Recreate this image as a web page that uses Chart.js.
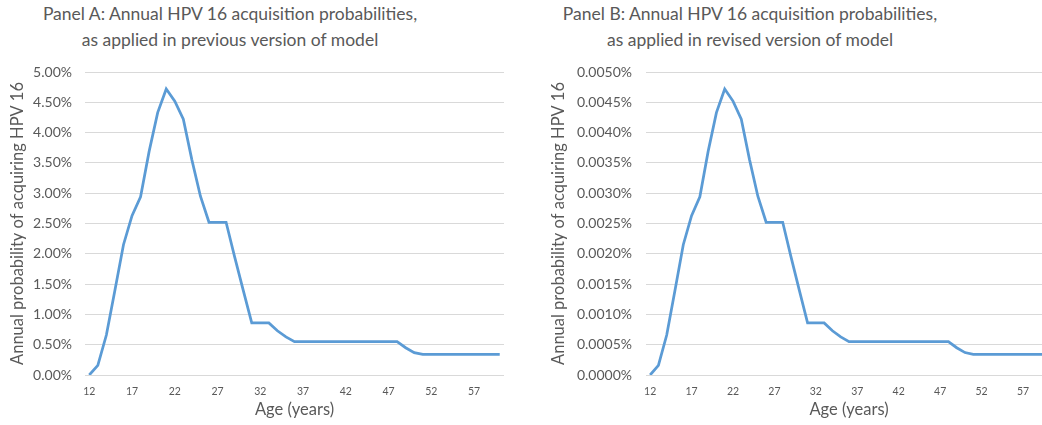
<!DOCTYPE html>
<html lang="en">
<head>
    <meta charset="UTF-8">
    <title>Annual HPV 16 acquisition probabilities</title>
    <script src="https://cdn.jsdelivr.net/npm/chart.js"></script>
    <style>
        body {
            margin: 0;
            width: 1042px;
            height: 425px;
            overflow: hidden;
            position: relative;
            background: #fff;
            font-family: Lato, "Open Sans", sans-serif;
        }
        .panel-title {
            position: absolute;
            top: 1px;
            width: 480px;
            margin-left: -240px;
            text-align: center;
            font-size: 17.5px;
            line-height: 26px;
            color: #595959;
        }
        canvas {
            position: absolute;
            top: 0;
        }
    </style>
</head>
<body>

    <div class="panel-title" style="left:230px">Panel A: Annual HPV 16 acquisition probabilities,<br>as applied in previous version of model</div>
    <div class="panel-title" style="left:750px">Panel B: Annual HPV 16 acquisition probabilities,<br>as applied in revised version of model</div>

    <canvas id="chartA" width="520" height="425" style="left:0"></canvas>
    <canvas id="chartB" width="540" height="425" style="left:520px"></canvas>

    <script>
        // ages 12..60, one category per year
        const ages = ['12','13','14','15','16','17','18','19','20','21','22','23','24','25','26','27','28','29','30',
                      '31','32','33','34','35','36','37','38','39','40','41','42','43','44','45','46','47','48','49',
                      '50','51','52','53','54','55','56','57','58','59','60'];

        // Panel A: previous model, % per year
        const previousModel = [0, 0.16, 0.66, 1.40, 2.15, 2.63, 2.94, 3.69, 4.33, 4.72, 4.52, 4.22, 3.55, 2.95,
                               2.52, 2.52, 2.52, 1.95, 1.40, 0.86, 0.86, 0.86, 0.73, 0.63, 0.55,
                               0.55, 0.55, 0.55, 0.55, 0.55, 0.55, 0.55, 0.55, 0.55, 0.55, 0.55, 0.55,
                               0.45, 0.37, 0.34, 0.34, 0.34, 0.34, 0.34, 0.34, 0.34, 0.34, 0.34, 0.34];

        // Panel B: revised model, % per year
        const revisedModel = [0, 0.00016, 0.00066, 0.00140, 0.00215, 0.00263, 0.00294, 0.00369, 0.00433, 0.00472,
                              0.00452, 0.00422, 0.00355, 0.00295, 0.00252, 0.00252, 0.00252, 0.00195, 0.00140,
                              0.00086, 0.00086, 0.00086, 0.00073, 0.00063, 0.00055,
                              0.00055, 0.00055, 0.00055, 0.00055, 0.00055, 0.00055, 0.00055, 0.00055, 0.00055,
                              0.00055, 0.00055, 0.00055, 0.00045, 0.00037, 0.00034,
                              0.00034, 0.00034, 0.00034, 0.00034, 0.00034, 0.00034, 0.00034, 0.00034, 0.00034];

        const textColor = '#595959';
        const gridColor = '#d9d9d9';
        const lineColor = '#5B9BD5';
        Chart.defaults.font.family = 'Lato, "Open Sans", sans-serif';
        Chart.defaults.color = textColor;

        function makeChart(id, values, yMax, yStep, decimals, layout) {
            const ctx = document.getElementById(id).getContext('2d');
            return new Chart(ctx, {
                type: 'line',
                data: {
                    labels: ages,
                    datasets: [{
                        data: values,
                        borderColor: lineColor,
                        borderWidth: 2.75,
                        pointRadius: 0,
                        tension: 0,
                        fill: false
                    }]
                },
                options: {
                    responsive: false,
                    animation: false,
                    layout: { padding: { top: 72, right: layout.right, left: 0, bottom: 0 } },
                    plugins: {
                        legend: { display: false },
                        tooltip: { enabled: false }
                    },
                    scales: {
                        x: {
                            offset: true,
                            grid: { display: false },
                            border: { display: false },
                            ticks: {
                                autoSkip: false,
                                maxRotation: 0,
                                padding: 2,
                                font: { size: 10.5 },
                                callback: function(v, i) {
                                    return i % 5 === 0 ? this.getLabelForValue(v) : '';
                                }
                            },
                            title: {
                                display: true,
                                text: 'Age (years)',
                                font: { size: 16.5 },
                                padding: { top: 0, bottom: 5 }
                            },
                            afterFit: s => { s.height = 50; }
                        },
                        y: {
                            min: 0,
                            max: yMax,
                            grid: { color: gridColor, drawTicks: false },
                            border: { display: false },
                            ticks: {
                                stepSize: yStep,
                                padding: layout.tickPad,
                                font: { size: 14 },
                                callback: v => v.toFixed(decimals) + '%'
                            },
                            title: {
                                display: true,
                                text: 'Annual probability of acquiring HPV 16',
                                font: { size: 16.5 },
                                padding: { top: layout.titlePad, bottom: 0 }
                            },
                            afterFit: s => { s.width = layout.axisWidth; }
                        }
                    }
                }
            });
        }

        makeChart('chartA', previousModel, 5, 0.5, 2, { right: 16, axisWidth: 85, tickPad: 13, titlePad: 8 });
        makeChart('chartB', revisedModel, 0.005, 0.0005, 4, { right: 8, axisWidth: 126, tickPad: 14, titlePad: 29 });
    </script>

</body>
</html>
